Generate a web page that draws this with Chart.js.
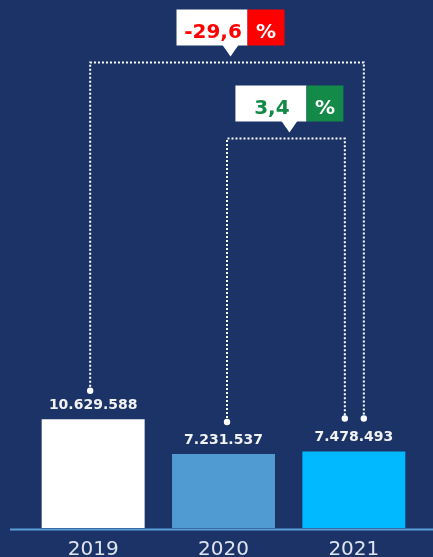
<!DOCTYPE html>
<html>
<head>
<meta charset="utf-8">
<script src="https://cdn.jsdelivr.net/npm/chart.js@4/dist/chart.umd.min.js"></script>
<style>
  html, body { margin: 0; padding: 0; background: #1b3366; }
  #wrap { width: 433px; height: 557px; position: relative; }
</style>
</head>
<body>
<div id="wrap"><canvas id="c" width="433" height="557"></canvas></div>
<script>
// ---- data ----
const years = ['2019', '2020', '2021'];
const values = [10629588, 7231537, 7478493];
const changeValues = [-29.6, 3.4];          // % change: 2019->2021, 2020->2021
const changePairs = [[0, 2], [1, 2]];       // bars connected by each callout
const barColors = ['#ffffff', '#509bd2', '#00b9ff'];
const changeColors = ['#ff0000', '#138a48'];

function fmtThousands(n) {
  return String(Math.round(n)).replace(/\B(?=(\d{3})+(?!\d))/g, '.');
}
function fmtPct(p) {
  return p.toFixed(1).replace('.', ',');
}

const overlay = {
  id: 'overlay',
  afterDatasetsDraw(chart, args, opts) {
    const ctx = chart.ctx;
    const meta = chart.getDatasetMeta(0);
    const ys = chart.scales.y;
    ctx.save();
    // baseline
    const by = ys.getPixelForValue(0) + 1.5;
    ctx.strokeStyle = '#5a9fdc';
    ctx.lineWidth = 2;
    ctx.beginPath();
    ctx.moveTo(10, by);
    ctx.lineTo(chart.width, by);
    ctx.stroke();

    // value labels
    ctx.fillStyle = '#f2f2f2';
    ctx.font = 'bold 14px "DejaVu Sans"';
    ctx.textAlign = 'center';
    ctx.textBaseline = 'middle';
    meta.data.forEach((bar, i) => {
      ctx.fillText(fmtThousands(values[i]), bar.x, bar.y - 14);
    });

    // connectors + callouts
    opts.connectors.forEach((c, k) => {
      const [a, b] = changePairs[k];
      const A = meta.data[a], B = meta.data[b];
      const x1 = A.x + c.dxA, y1 = A.y - c.gapA;
      const x2 = B.x + c.dxB, y2 = B.y - c.gapB;
      const lv = c.level;
      ctx.strokeStyle = '#ffffff';
      ctx.lineWidth = 2;
      ctx.setLineDash([2, 2]);
      ctx.beginPath();
      ctx.moveTo(x1, y1);
      ctx.lineTo(x1, lv);
      ctx.lineTo(x2, lv);
      ctx.lineTo(x2, y2);
      ctx.stroke();
      ctx.setLineDash([]);
      ctx.fillStyle = '#ffffff';
      [[x1, y1], [x2, y2]].forEach(([px, py]) => {
        ctx.beginPath();
        ctx.arc(px, py, 3.2, 0, Math.PI * 2);
        ctx.fill();
      });

      // callout box
      const cx = (x1 + x2) / 2 + 3.5;
      const wW = 71, wC = 37, h = 36;
      const left = cx - (wW + wC) / 2;
      const bottom = lv - 17;
      const top = bottom - h;
      ctx.fillStyle = '#ffffff';
      ctx.fillRect(left, top, wW, h);
      ctx.fillStyle = changeColors[k];
      ctx.fillRect(left + wW, top, wC, h);
      // pointer
      ctx.fillStyle = '#ffffff';
      ctx.beginPath();
      ctx.moveTo(cx - 8, bottom - 0.5);
      ctx.lineTo(cx + 8, bottom - 0.5);
      ctx.lineTo(cx, lv - 6);
      ctx.closePath();
      ctx.fill();
      // texts
      ctx.font = 'bold 20px "DejaVu Sans"';
      ctx.textBaseline = 'alphabetic';
      ctx.textAlign = 'center';
      ctx.fillStyle = changeColors[k];
      ctx.fillText(fmtPct(changeValues[k]), left + wW / 2 + 1, top + 28.3);
      ctx.fillStyle = '#ffffff';
      ctx.fillText('%', left + wW + wC / 2, top + 28.3);
    });
    ctx.restore();
  }
};

new Chart(document.getElementById('c'), {
  type: 'bar',
  data: {
    labels: years,
    datasets: [{
      data: values,
      backgroundColor: barColors,
      borderWidth: 0,
      barPercentage: 0.79,
      categoryPercentage: 1.0
    }]
  },
  options: {
    responsive: false,
    animation: false,
    events: [],
    layout: { padding: { left: 28, right: 14, top: 0, bottom: 0 } },
    plugins: {
      legend: { display: false },
      tooltip: { enabled: false },
      overlay: {
        connectors: [
          { level: 62.5, dxA: -3, gapA: 28.5, dxB: 10, gapB: 33 },
          { level: 138.5, dxA: 3.5, gapA: 32, dxB: -9, gapB: 33 }
        ]
      }
    },
    scales: {
      x: {
        grid: { display: false, drawTicks: false },
        border: { display: false },
        afterFit(scale) { scale.height = 29; },
        ticks: {
          color: '#dfe4ee',
          font: { family: 'DejaVu Sans', size: 20, weight: 'normal' },
          padding: 10
        }
      },
      y: {
        display: false,
        min: 0,
        max: 51600000
      }
    }
  },
  plugins: [overlay]
});
</script>
</body>
</html>
